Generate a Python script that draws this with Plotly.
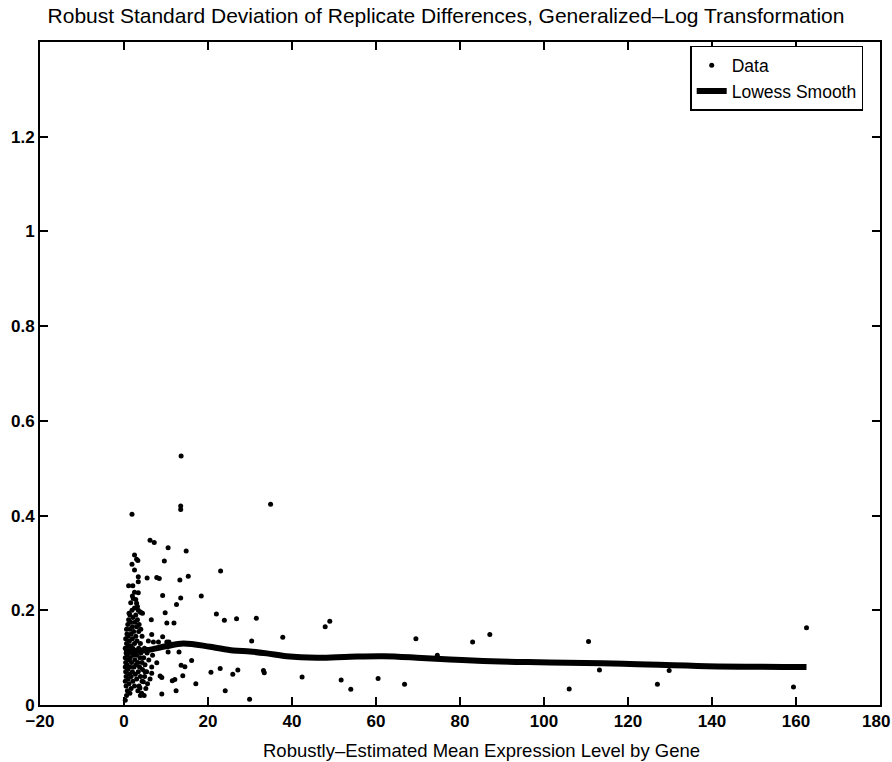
import plotly.graph_objects as go

# --- Data ---
# scattered points (x = mean expression, y = robust SD)
sparse_x = [13.6, 13.5, 13.5, 34.9, 1.9, 6.2, 7.2, 10.5, 14.8, 2.5, 3.0, 3.3, 9.6, 1.9, 2.5,
            23.0, 3.4, 3.4, 5.5, 7.8, 8.4, 13.3, 15.3, 1.1, 2.1, 2.5, 3.4, 2.0, 2.8,
            9.2, 13.5, 18.4, 1.6, 3.2, 3.8, 4.4, 1.2, 12.5, 9.8, 22.0, 23.9, 26.8, 31.5,
            6.5, 10.2, 11.9, 6.6, 9.2, 30.4, 37.8, 7.0, 8.2, 10.2, 10.7, 10.5, 13.1,
            16.1, 20.7, 22.9, 25.9, 27.1, 33.2, 33.4, 13.6, 14.5, 14.0, 12.1, 11.5,
            8.6, 9.0, 17.1, 12.4, 9.0, 24.1, 29.9, 4.1, 7.8, 6.6, 5.0, 3.8, 4.6,
            42.4, 47.9, 49.0, 51.7, 54.0, 60.5, 66.8, 69.5, 74.6, 83.0, 87.1,
            110.6, 106.0, 113.2, 127.0, 129.8, 159.4, 162.5]
sparse_y = [0.526, 0.420, 0.413, 0.424, 0.403, 0.348, 0.343, 0.332, 0.325, 0.317, 0.308, 0.305, 0.304, 0.297, 0.285,
            0.283, 0.271, 0.260, 0.268, 0.269, 0.267, 0.264, 0.272, 0.252, 0.252, 0.238, 0.237, 0.230, 0.223,
            0.231, 0.226, 0.230, 0.216, 0.208, 0.197, 0.194, 0.194, 0.212, 0.195, 0.192, 0.179, 0.182, 0.183,
            0.180, 0.173, 0.173, 0.149, 0.144, 0.135, 0.143, 0.133, 0.133, 0.133, 0.133, 0.112, 0.112,
            0.094, 0.069, 0.077, 0.065, 0.074, 0.073, 0.068, 0.084, 0.081, 0.062, 0.054, 0.051,
            0.061, 0.058, 0.045, 0.030, 0.023, 0.030, 0.012, 0.195, 0.089, 0.067, 0.070, 0.036, 0.049,
            0.059, 0.165, 0.177, 0.053, 0.033, 0.056, 0.044, 0.140, 0.105, 0.133, 0.149,
            0.134, 0.034, 0.074, 0.044, 0.073, 0.038, 0.163]

# dense cluster of low-expression genes near x = 0..7
cluster_x = [0.3, 0.6, 3.9, 4.8, 4.2, 1.4, 0.8, 3.3, 1.7, 5.2, 0.5, 2.5, 3.6, 1.2, 5.6,
             0.3, 2.1, 4.3, 1.0, 3.0, 6.2, 0.5, 1.7, 3.9, 4.9, 1.3, 2.7, 0.4, 2.0, 3.4, 5.4,
             0.9, 4.4, 0.3, 1.4, 2.4, 3.7, 6.6, 0.7, 2.9, 5.0, 0.4, 1.8, 3.3, 4.3,
             1.1, 2.6, 5.9, 0.3, 1.5, 3.8, 4.7, 0.8, 2.2, 3.0, 6.8, 0.5, 1.8, 4.0, 5.5,
             1.2, 2.8, 0.3, 2.1, 3.5, 4.9, 1.0, 1.6, 0.6, 2.5, 3.9, 1.3, 3.1, 5.8,
             0.4, 2.0, 1.0, 2.8, 4.3, 0.7, 1.7, 2.3, 3.5, 0.6, 1.4, 4.0, 2.0, 3.0,
             0.9, 3.6, 1.6, 2.6, 1.1, 3.2, 2.1, 1.4, 2.8, 1.9, 3.4, 2.5, 3.0, 2.2]
cluster_y = [0.010, 0.020, 0.020, 0.020, 0.025, 0.025, 0.030, 0.030, 0.035, 0.035, 0.040, 0.040, 0.040, 0.045, 0.045,
             0.050, 0.050, 0.050, 0.055, 0.055, 0.055, 0.060, 0.060, 0.060, 0.060, 0.065, 0.065, 0.070, 0.070, 0.070, 0.070,
             0.075, 0.075, 0.080, 0.080, 0.080, 0.080, 0.080, 0.085, 0.085, 0.085, 0.090, 0.090, 0.090, 0.090,
             0.095, 0.095, 0.095, 0.100, 0.100, 0.100, 0.100, 0.105, 0.105, 0.105, 0.105, 0.110, 0.110, 0.110, 0.110,
             0.115, 0.115, 0.120, 0.120, 0.120, 0.120, 0.125, 0.125, 0.130, 0.130, 0.130, 0.135, 0.135, 0.135,
             0.140, 0.140, 0.145, 0.145, 0.145, 0.150, 0.150, 0.155, 0.155, 0.160, 0.160, 0.160, 0.165, 0.165,
             0.170, 0.170, 0.175, 0.175, 0.180, 0.180, 0.185, 0.190, 0.190, 0.200, 0.200, 0.205, 0.215, 0.225]

# lowess smooth curve
lowess_x = [0.0, 5.4, 10.0, 14.1, 20.5, 26.0, 30.0, 34.0, 38.7, 45.9, 53.8, 61.7, 69.7,
            77.6, 85.5, 93.5, 101.4, 118.9, 138.7, 162.5]
lowess_y = [0.113, 0.116, 0.124, 0.130, 0.123, 0.115, 0.113, 0.109, 0.103, 0.100, 0.102, 0.103, 0.100,
            0.096, 0.093, 0.091, 0.090, 0.087, 0.082, 0.080]

x_ticks = [-20, 0, 20, 40, 60, 80, 100, 120, 140, 160, 180]
x_labels = ["\u221220", "0", "20", "40", "60", "80", "100", "120", "140", "160", ""]
last_x_label = "180"  # drawn separately so it stays inside the page edge
y_ticks = [0, 0.2, 0.4, 0.6, 0.8, 1, 1.2]
y_labels = ["0", "0.2", "0.4", "0.6", "0.8", "1", "1.2"]

FONT = "Liberation Sans, Arial, sans-serif"
TICK_FONT = dict(family=FONT, size=17, color="black", weight="bold")

fig = go.Figure()
fig.add_trace(go.Scatter(
    x=sparse_x + cluster_x, y=sparse_y + cluster_y,
    mode="markers", name="Data",
    marker=dict(color="black", size=5),
))
fig.add_trace(go.Scatter(
    x=lowess_x, y=lowess_y, mode="lines", name="Lowess Smooth",
    line=dict(color="black", width=6, shape="spline"),
))

axis_common = dict(
    showgrid=False, zeroline=False, showline=True, linecolor="black", linewidth=2,
    mirror="ticks", ticks="inside", ticklen=8, tickwidth=1.5, tickcolor="black",
    tickfont=TICK_FONT, automargin=False, ticklabeloverflow="allow",
)

fig.update_layout(
    width=892, height=762,
    margin=dict(l=40, r=12, t=42, b=57),
    paper_bgcolor="white", plot_bgcolor="white",
    font=dict(family=FONT, color="black"),
    title=dict(text="Robust Standard Deviation of Replicate Differences, Generalized\u2013Log Transformation",
               x=0.5, xanchor="center", y=0.98, yanchor="middle",
               font=dict(family=FONT, size=21, color="black")),
    xaxis=dict(range=[-20, 180], tickvals=x_ticks, ticktext=x_labels, **axis_common),
    yaxis=dict(range=[0, 1.4], tickvals=y_ticks, ticktext=y_labels, **axis_common),
    annotations=[
        dict(text="Robustly\u2013Estimated Mean Expression Level by Gene",
             xref="paper", yref="paper", x=0.526, y=-0.068,
             xanchor="center", yanchor="middle", showarrow=False,
             font=dict(family=FONT, size=18.5, color="black")),
        dict(text=last_x_label, xref="x", yref="paper", x=x_ticks[-1], y=0,
             xanchor="center", yanchor="top", xshift=-4, yshift=-5,
             showarrow=False, font=TICK_FONT),
    ],
    showlegend=True,
    legend=dict(x=0.98, y=0.994, xanchor="right", yanchor="top",
                bgcolor="white", bordercolor="black", borderwidth=1.5,
                font=dict(family=FONT, size=17.5, color="black"),
                tracegroupgap=0, itemwidth=30),
)

# drop the default page margin so the figure sits at the window origin
fig.write_html("out.html", config={"displayModeBar": False},
               post_script="document.body.style.margin='0';document.body.style.overflow='hidden';")
